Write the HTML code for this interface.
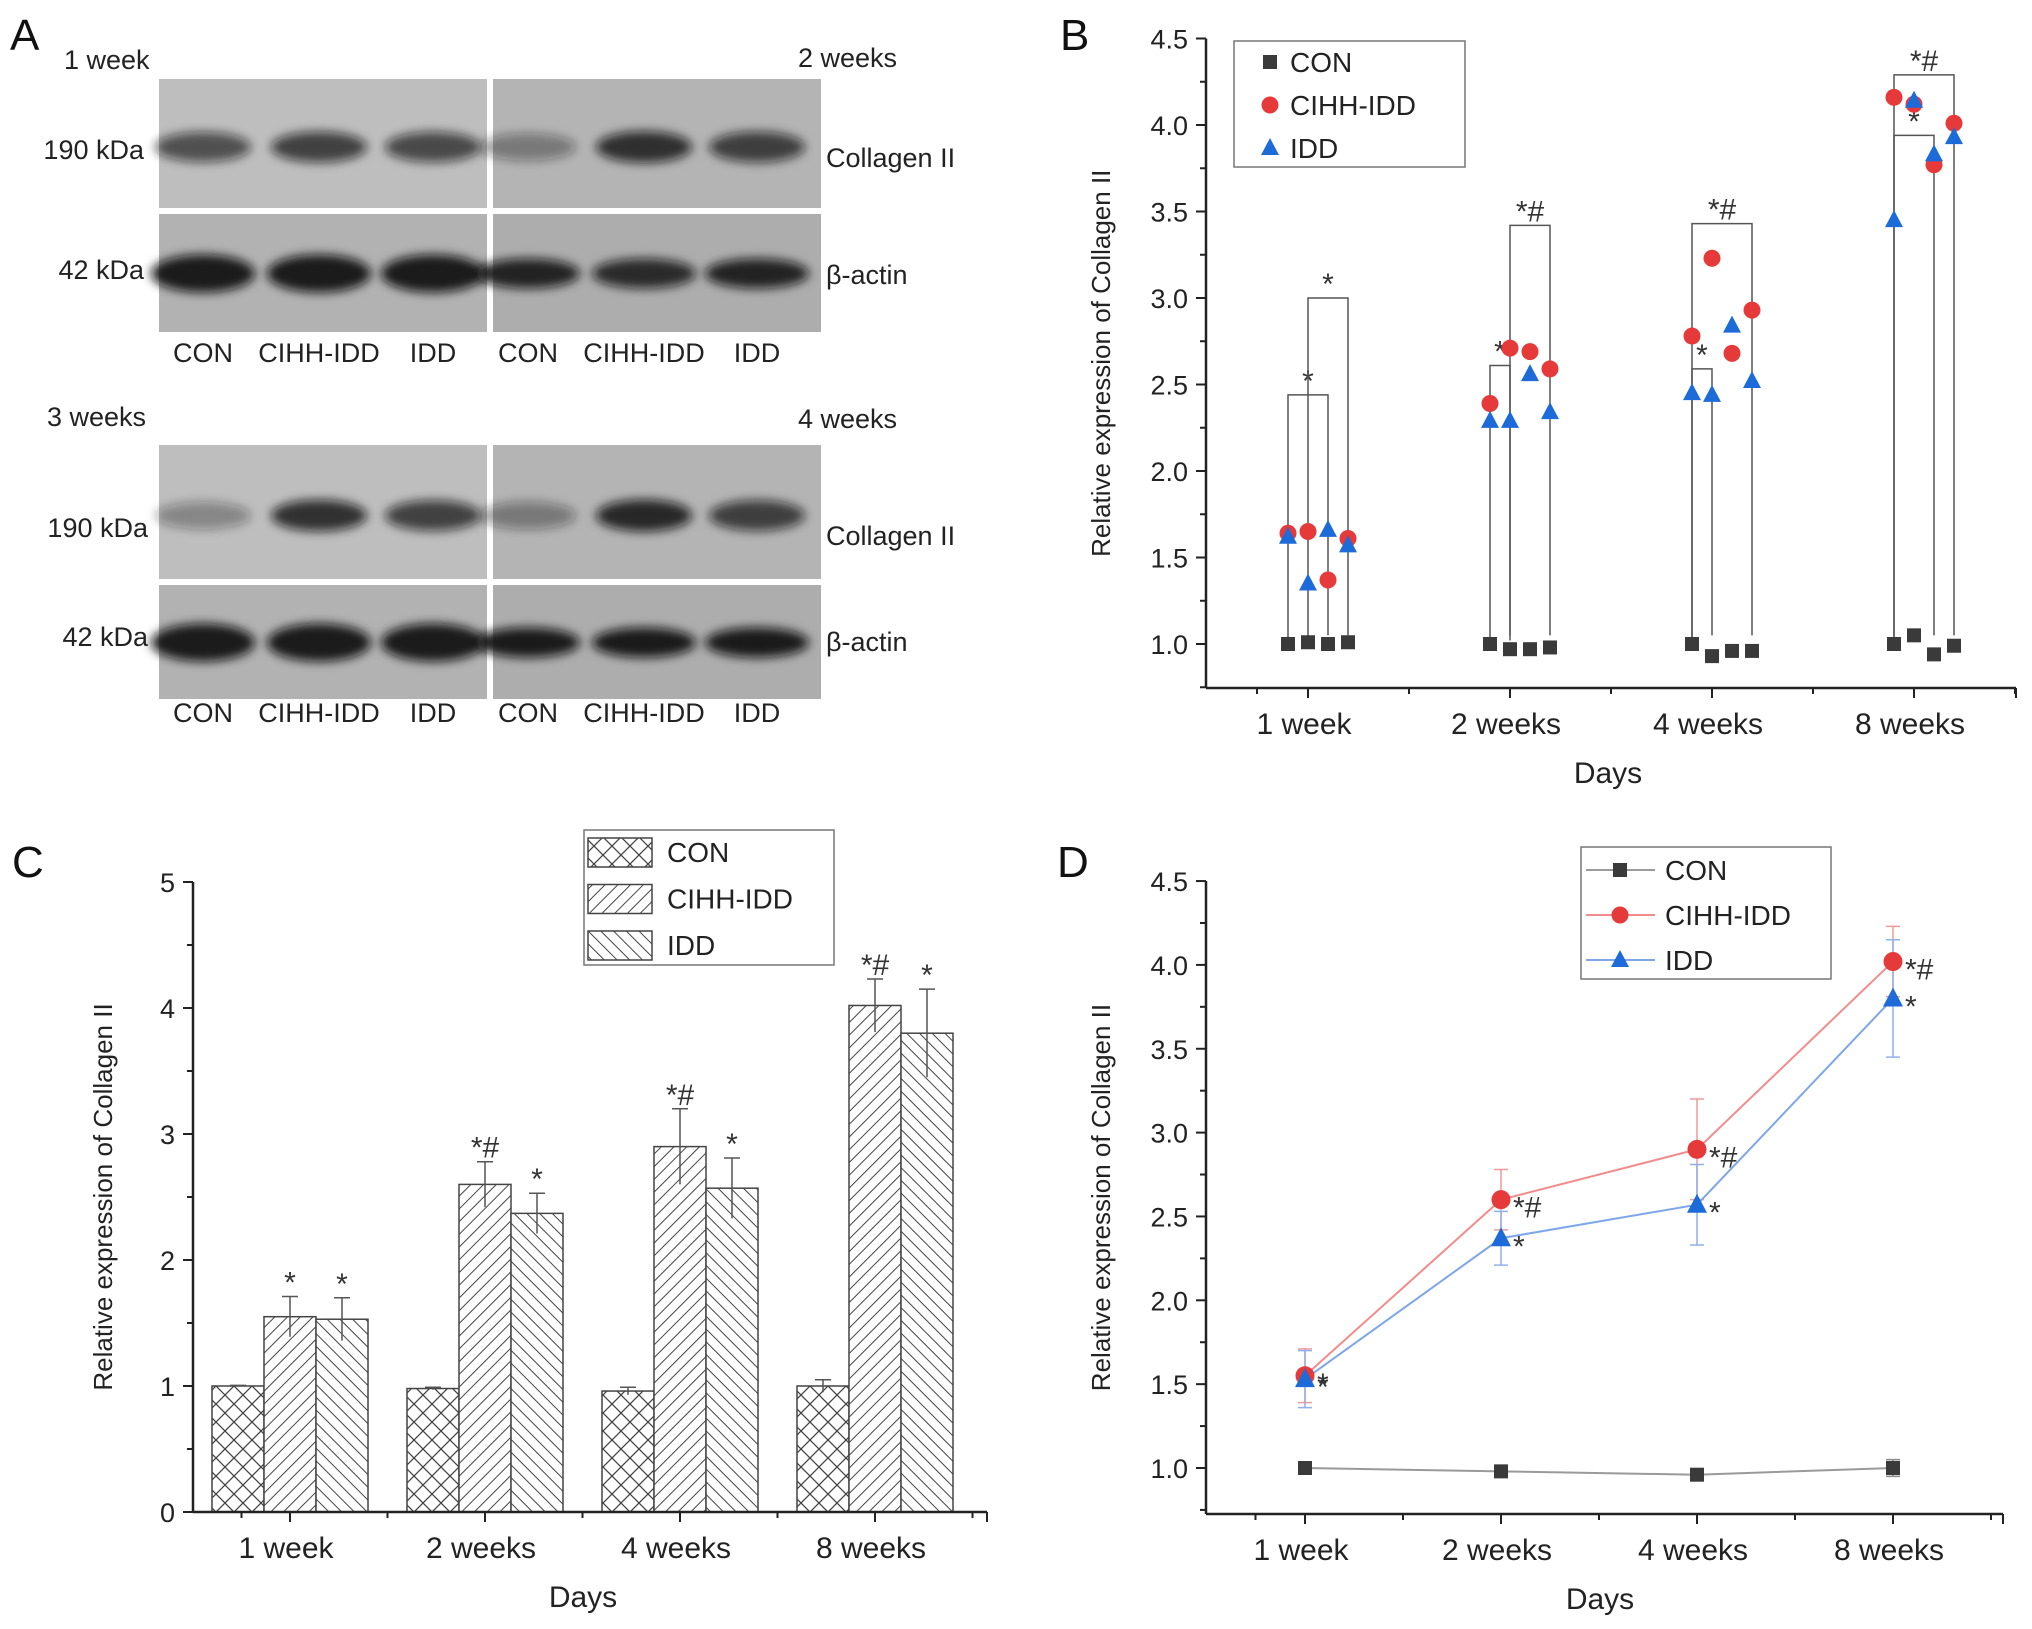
<!DOCTYPE html>
<html><head><meta charset="utf-8"><style>
body{margin:0;background:#fff}
svg{display:block;font-family:"Liberation Sans",Arial,sans-serif}
</style></head><body>
<svg id="fig" width="2032" height="1629" viewBox="0 0 2032 1629" xmlns="http://www.w3.org/2000/svg">
<defs>
<filter id="blur" x="-30%" y="-60%" width="160%" height="220%"><feGaussianBlur stdDeviation="5"/></filter>
<pattern id="pCross" width="18" height="18" patternUnits="userSpaceOnUse"><rect width="18" height="18" fill="#fff"/><path d="M0 0L18 18M18 0L0 18" stroke="#444" stroke-width="1.3"/></pattern>
<pattern id="pFwd" width="9" height="9" patternUnits="userSpaceOnUse" patternTransform="rotate(45)"><rect width="9" height="9" fill="#fff"/><line x1="0" y1="0" x2="0" y2="9" stroke="#444" stroke-width="2"/></pattern>
<pattern id="pBack" width="9" height="9" patternUnits="userSpaceOnUse" patternTransform="rotate(-45)"><rect width="9" height="9" fill="#fff"/><line x1="0" y1="0" x2="0" y2="9" stroke="#444" stroke-width="2"/></pattern>
</defs>
<g id="panelA"></g>
<g id="panelB"></g>
<g id="panelC"></g>
<g id="panelD"></g>
</svg>
<script>
// ---------- data ----------
const categories = ["1 week","2 weeks","4 weeks","8 weeks"];
const groups = ["CON","CIHH-IDD","IDD"];
// Panel B individual samples (4 per group per time point)
const scatterCON  = [[1.0,1.01,1.0,1.01],[1.0,0.97,0.97,0.98],[1.0,0.93,0.96,0.96],[1.0,1.05,0.94,0.99]];
const scatterCIHH = [[1.64,1.65,1.37,1.61],[2.39,2.71,2.69,2.59],[2.78,3.23,2.68,2.93],[4.16,4.12,3.77,4.01]];
const scatterIDD  = [[1.62,1.35,1.66,1.57],[2.29,2.29,2.56,2.34],[2.45,2.44,2.84,2.52],[3.45,4.14,3.83,3.93]];
// brackets: [category, from point, to point, level, label]
const bracketsB = [[0,0,2,2.44,"*"],[0,1,3,3.0,"*"],[1,0,1,2.61,"*"],[1,1,3,3.42,"*#"],[2,0,1,2.59,"*"],[2,0,3,3.43,"*#"],[3,0,2,3.94,"*"],[3,0,3,4.29,"*#"]];
// Panels C & D means and errors
const meanCON  = [1.0,0.98,0.96,1.0];
const meanCIHH = [1.55,2.6,2.9,4.02];
const meanIDD  = [1.53,2.37,2.57,3.8];
const errCON   = [0.005,0.01,0.03,0.05];
const errCIHH  = [0.16,0.18,0.3,0.21];
const errIDD   = [0.17,0.16,0.24,0.35];
const sigCIHH  = ["*","*#","*#","*#"];
const sigIDD   = ["*","*","*","*"];
const ticksB = ["1.0","1.5","2.0","2.5","3.0","3.5","4.0","4.5"];
const ticksC = ["0","1","2","3","4","5"];
// western blot band intensities (0-1)
const bandsCol = [[0.75,0.85,0.8],[0.45,0.95,0.85],[0.4,0.95,0.85],[0.45,1.0,0.85]];
const bandsAct = [[1,1,1],[0.95,0.9,0.95],[1,1,1],[1,1,1]];

const NS="http://www.w3.org/2000/svg";
function mk(parent,tag,attrs,text){const e=document.createElementNS(NS,tag);for(const k in attrs)e.setAttribute(k,attrs[k]);if(text!==undefined)e.textContent=text;parent.appendChild(e);return e;}
const RED="#e63a3a", BLUE="#1d6bd8", DARK="#3a3a3a";

// ---------- Panel A ----------
(function(){
const g=document.getElementById('panelA');
let t=mk(g,'text',{x:10,y:50,'font-size':44,fill:'#111'},'A');


const blocks=[{top:79,mid:211,bot:332,lab:352,t1:60,t2:58,w1:"1 week",w2:"2 weeks",kx:144,k1:149,k2:281,tw:64},
              {top:445,mid:582,bot:699,lab:712,t1:417,t2:419,w1:"3 weeks",w2:"4 weeks",kx:148,k1:527,k2:648,tw:47}];
const lanes=[[203,319,433],[528,644,757]];
blocks.forEach((b,bi)=>{
  [[159,487],[493,821]].forEach((p,pi)=>{
    const r1=mk(g,'rect',{x:p[0],y:b.top,width:p[1]-p[0],height:b.mid-b.top-3,fill:pi?'#b4b4b4':'#bebebe'});
    
    
    const r2=mk(g,'rect',{x:p[0],y:b.mid+3,width:p[1]-p[0],height:b.bot-b.mid-3,fill:pi?'#adadad':'#b2b2b2'});
    
    
    const idx=bi*2+pi;
    lanes[pi].forEach((lx,li)=>{
      const ic=bandsCol[idx][li], ia=bandsAct[idx][li];
      const cy=(b.top+b.mid)/2+2, ay=(b.mid+b.bot)/2+2;
      const e1=mk(g,'ellipse',{cx:lx,cy:cy,rx:48,ry:12+ic*4,fill:'#111','fill-opacity':ic*0.85,filter:'url(#blur)'});
      
      
      const e2=mk(g,'ellipse',{cx:lx,cy:ay,rx:52,ry:pi?15:19,fill:'#111','fill-opacity':ia*0.92,filter:'url(#blur)'});
      
      
      const tl=mk(g,'text',{x:lx,y:b.lab+10,'font-size':27,'text-anchor':'middle',fill:'#222'},groups[li]);
      
      
    });
  });
  let a=mk(g,'text',{x:b.tw,y:b.t1+9,'font-size':27,fill:'#222'},b.w1);
  
  
  a=mk(g,'text',{x:798,y:b.t2+9,'font-size':27,fill:'#222'},b.w2);
  
  
  a=mk(g,'text',{x:b.kx,y:b.k1+10,'font-size':27,'text-anchor':'end',fill:'#222'},'190 kDa');
  
  
  a=mk(g,'text',{x:b.kx,y:b.k2-2,'font-size':27,'text-anchor':'end',fill:'#222'},'42 kDa');
  
  
  a=mk(g,'text',{x:826,y:b.k1+18,'font-size':27,fill:'#222'},'Collagen II');
  
  
  a=mk(g,'text',{x:826,y:b.k2+3,'font-size':27,fill:'#222'},'β-actin');
  
  
});
})();

// ---------- axis helper ----------
function axes(g,o){
  mk(g,'line',{x1:o.x0,y1:o.yt,x2:o.x0,y2:o.yb,stroke:'#222','stroke-width':2.5});
  mk(g,'line',{x1:o.x0,y1:o.yb,x2:o.x1,y2:o.yb,stroke:'#222','stroke-width':2.5});
  o.tickVals.forEach((v,i)=>{
    const y=o.yFn(v);
    mk(g,'line',{x1:o.x0-10,y1:y,x2:o.x0,y2:y,stroke:'#222','stroke-width':2});
    const tl=mk(g,'text',{x:o.x0-18,y:y+10,'font-size':27,'text-anchor':'end',fill:'#222'},o.tickLabels[i]);
    
    
    if(i<o.tickVals.length-1){const ym=o.yFn(v+o.step/2);mk(g,'line',{x1:o.x0-6,y1:ym,x2:o.x0,y2:ym,stroke:'#222','stroke-width':2});}
    if(i==0&&o.minorBelow){const ym=o.yFn(v-o.step/2);mk(g,'line',{x1:o.x0-6,y1:ym,x2:o.x0,y2:ym,stroke:'#222','stroke-width':2});}
  });
  categories.forEach((c,i)=>{
    const x=o.xFn(i);
    mk(g,'line',{x1:x,y1:o.yb,x2:x,y2:o.yb+10,stroke:'#222','stroke-width':2});
    if(i<3){const xm=(x+o.xFn(i+1))/2;mk(g,'line',{x1:xm,y1:o.yb,x2:xm,y2:o.yb+6,stroke:'#222','stroke-width':2});}
    const tl=mk(g,'text',{x:x-4,y:o.yb+46,'font-size':30,'text-anchor':'middle',fill:'#222'},c);
    
    
  });
  const xm0=o.x0+(o.xFn(0)-o.x0)/2;
  mk(g,'line',{x1:xm0,y1:o.yb,x2:xm0,y2:o.yb+6,stroke:'#222','stroke-width':2});
  const xm1=o.xFn(3)+(o.xFn(3)-o.xFn(2))/2;
  mk(g,'line',{x1:xm1,y1:o.yb,x2:xm1,y2:o.yb+6,stroke:'#222','stroke-width':2});
  mk(g,'line',{x1:o.x1,y1:o.yb,x2:o.x1,y2:o.yb+10,stroke:'#222','stroke-width':2});
  const yc=(o.yt+o.yb)/2;
  const yt=mk(g,'text',{x:o.titleX,y:yc,'font-size':26,'text-anchor':'middle',fill:'#222',transform:`rotate(-90 ${o.titleX} ${yc})`},'Relative expression of Collagen II');
  
  
  const xt=mk(g,'text',{x:o.daysX,y:o.yb+95,'font-size':30,'text-anchor':'middle',fill:'#222'},'Days');
  
  
}
function marker(g,type,x,y,s,name){
  let e;
  if(type==0) e=mk(g,'rect',{x:x-s,y:y-s,width:2*s,height:2*s,fill:DARK});
  else if(type==1) e=mk(g,'circle',{cx:x,cy:y,r:s+1.5,fill:RED});
  else e=mk(g,'path',{d:`M${x} ${y-s-3}L${x+s+2} ${y+s}L${x-s-2} ${y+s}Z`,fill:BLUE});
  
  
  return e;
}

// ---------- Panel B ----------
(function(){
const g=document.getElementById('panelB');
const yB=v=>644-(v-1)*173;
const xB=i=>1308+i*202;
const ptX=(c,k)=>xB(c)+(k-1)*20;
let t=mk(g,'text',{x:1060,y:50,'font-size':44,fill:'#111'},'B');


axes(g,{x0:1206,x1:2016,yb:688,yt:yB(4.5),tickVals:ticksB.map(Number),tickLabels:ticksB,step:0.5,yFn:yB,xFn:xB,titleX:1110,daysX:1608,minorBelow:true});
bracketsB.forEach(b=>{
  const xa=ptX(b[0],b[1]), xb=ptX(b[0],b[2]), yl=yB(b[3]);
  const p=mk(g,'path',{d:`M${xa} ${yB(1.02)}L${xa} ${yl}L${xb} ${yl}L${xb} ${yB(1.05)}`,fill:'none',stroke:'#555','stroke-width':1.5});
  
  
  const s=mk(g,'text',{x:(xa+xb)/2,y:yl-4,'font-size':30,'text-anchor':'middle',fill:'#333'},b[4]);
  
  
});
[scatterCON,scatterCIHH,scatterIDD].forEach((ser,si)=>{
  ser.forEach((arr,c)=>arr.forEach((v,k)=>marker(g,si,ptX(c,k),yB(v),7,'point-'+groups[si].toLowerCase())));
});
const lg=mk(g,'g',{});


mk(lg,'rect',{x:1234,y:41,width:231,height:126,fill:'#fff',stroke:'#777','stroke-width':1.5});
groups.forEach((n,i)=>{
  const y=62+i*43;
  marker(lg,i,1270,y,7,'legend-marker');
  const tx=mk(lg,'text',{x:1290,y:y+10,'font-size':28,fill:'#222'},n);
  
  
});
})();

// ---------- Panel C ----------
(function(){
const g=document.getElementById('panelC');
const yC=v=>1512-v*126;
const xC=i=>290+i*195;
let t=mk(g,'text',{x:12,y:877,'font-size':44,fill:'#111'},'C');


const fills=['url(#pCross)','url(#pFwd)','url(#pBack)'];
[meanCON,meanCIHH,meanIDD].forEach((ser,si)=>{
  const errs=[errCON,errCIHH,errIDD][si];
  ser.forEach((v,c)=>{
    const cx=xC(c)+(si-1)*52;
    const r=mk(g,'rect',{x:cx-26,y:yC(v),width:52,height:yC(0)-yC(v),fill:fills[si],stroke:'#444','stroke-width':1.5});
    
    
    const ey=yC(v+errs[c]), ey2=yC(v-errs[c]);
    const e=mk(g,'path',{d:`M${cx} ${ey2}L${cx} ${ey}M${cx-8} ${ey}L${cx+8} ${ey}`,stroke:'#555','stroke-width':1.5,fill:'none'});
    
    
    if(si>0){
      const s=mk(g,'text',{x:cx,y:ey-4,'font-size':30,'text-anchor':'middle',fill:'#333'},(si==1?sigCIHH:sigIDD)[c]);
      
      
    }
  });
});
axes(g,{x0:193,x1:987,yb:1512,yt:yC(5),tickVals:ticksC.map(Number),tickLabels:ticksC,step:1,yFn:yC,xFn:xC,titleX:112,daysX:583});
const lg=mk(g,'g',{});


mk(lg,'rect',{x:584,y:830,width:250,height:135,fill:'#fff',stroke:'#777','stroke-width':1.5});
groups.forEach((n,i)=>{
  const y=852+i*46.5;
  mk(lg,'rect',{x:588,y:y-14,width:64,height:29,fill:fills[i],stroke:'#444','stroke-width':1.5});
  const tx=mk(lg,'text',{x:667,y:y+10,'font-size':28,fill:'#222'},n);
  
  
});
})();

// ---------- Panel D ----------
(function(){
const g=document.getElementById('panelD');
const yD=v=>1468-(v-1)*167.7;
const xD=i=>1305+i*196;
let t=mk(g,'text',{x:1057,y:877,'font-size':44,fill:'#111'},'D');


axes(g,{x0:1206,x1:2003,yb:1514,yt:yD(4.5),tickVals:ticksB.map(Number),tickLabels:ticksB,step:0.5,yFn:yD,xFn:xD,titleX:1110,daysX:1600,minorBelow:true});
const lineCols=['#9a9a9a','#f28c8c','#7ea6ea'];
const errCols=['#888','#f09a9a','#8fb0ea'];
[meanCON,meanCIHH,meanIDD].forEach((ser,si)=>{
  const errs=[errCON,errCIHH,errIDD][si];
  const l=mk(g,'polyline',{points:ser.map((v,c)=>xD(c)+','+yD(v)).join(' '),fill:'none',stroke:lineCols[si],'stroke-width':2});
  
  
  ser.forEach((v,c)=>{
    const x=xD(c), a=yD(v+errs[c]), b=yD(v-errs[c]);
    const e=mk(g,'path',{d:`M${x} ${a}L${x} ${b}M${x-7} ${a}L${x+7} ${a}M${x-7} ${b}L${x+7} ${b}`,stroke:errCols[si],'stroke-width':1.5,fill:'none'});
    
    
  });
});
[meanCON,meanCIHH,meanIDD].forEach((ser,si)=>{
  ser.forEach((v,c)=>{
    marker(g,si,xD(c),yD(v),si==0?7:8,'point-'+groups[si].toLowerCase());
    if(si>0){
      const s=mk(g,'text',{x:xD(c)+12,y:yD(v)+18,'font-size':30,fill:'#333'},(si==1?sigCIHH:sigIDD)[c]);
      
      
    }
  });
});
const lg=mk(g,'g',{});


mk(lg,'rect',{x:1581,y:847,width:250,height:132,fill:'#fff',stroke:'#777','stroke-width':1.5});
groups.forEach((n,i)=>{
  const y=870+i*45;
  mk(lg,'line',{x1:1586,y1:y,x2:1655,y2:y,stroke:lineCols[i],'stroke-width':2});
  marker(lg,i,1620,y,7,'legend-marker');
  const tx=mk(lg,'text',{x:1665,y:y+10,'font-size':28,fill:'#222'},n);
  
  
});
})();
</script>
</body></html>
